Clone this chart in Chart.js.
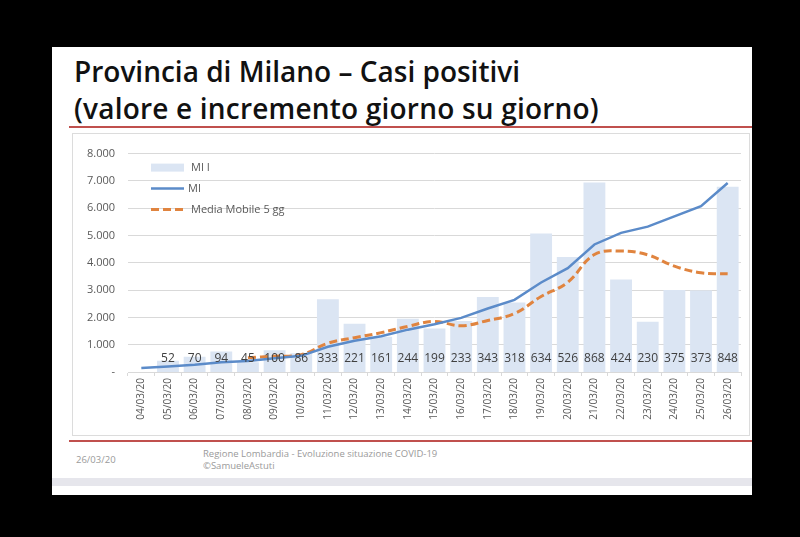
<!DOCTYPE html>
<html>
<head>
<meta charset="utf-8">
<script src="https://cdn.jsdelivr.net/npm/chart.js@4"></script>
<style>
  html, body { margin: 0; padding: 0; background: #000; }
  body { width: 800px; height: 537px; position: relative; overflow: hidden; font-family: "Open Sans", sans-serif; }
  #slide { position: absolute; left: 52px; top: 47px; width: 700px; height: 448px; background: #fff; }
  .title { position: absolute; left: 22px; color: #111; font-weight: 600; white-space: nowrap; }
  #t1 { top: 5px; font-size: 28px; letter-spacing: 0px; }
  #t2 { top: 42px; font-size: 28px; letter-spacing: 0.2px; }
  .redline { position: absolute; left: 17px; width: 683px; height: 2px; background: #c0504d; }
  #chart-box { position: absolute; left: 20px; top: 86px; width: 678px; height: 303px; border: 1px solid #dcdcdc; box-sizing: border-box; }
  .foot { position: absolute; color: #9a9a9a; font-size: 9.5px; white-space: nowrap; }
  #band { position: absolute; left: 0; top: 431px; width: 700px; height: 8px; background: #e6e6ec; }
</style>
</head>
<body>
<div id="slide">
  <div class="title" id="t1">Provincia di Milano – Casi positivi</div>
  <div class="title" id="t2">(valore e incremento giorno su giorno)</div>
  <div class="redline" style="top:79px"></div>
  <div id="chart-box"><canvas id="chart" width="676" height="301"></canvas></div>
  <div class="redline" style="top:393px"></div>
  <div class="foot" style="left:24px; top:406px;">26/03/20</div>
  <div class="foot" style="left:151px; top:400px;">Regione Lombardia - Evoluzione situazione COVID-19</div>
  <div class="foot" style="left:151px; top:412px;">©SamueleAstuti</div>
  <div id="band"></div>
</div>
<script>
"use strict";
(function () {
  // dates on the category axis
  const DATES = ["04/03/20", "05/03/20", "06/03/20", "07/03/20", "08/03/20", "09/03/20",
    "10/03/20", "11/03/20", "12/03/20", "13/03/20", "14/03/20", "15/03/20", "16/03/20",
    "17/03/20", "18/03/20", "19/03/20", "20/03/20", "21/03/20", "22/03/20", "23/03/20",
    "24/03/20", "25/03/20", "26/03/20"];
  // daily increment (bars, secondary axis)
  const MI_INC = [null, 52, 70, 94, 45, 100, 86, 333, 221, 161, 244, 199, 233, 343, 318,
    634, 526, 868, 424, 230, 375, 373, 848];
  // total positive cases (line)
  const MI_TOT = [145, 197, 267, 361, 406, 506, 592, 925, 1146, 1307, 1551, 1750, 1983,
    2326, 2644, 3278, 3804, 4672, 5096, 5326, 5701, 6074, 6922];
  // 5 day moving average of the increments (secondary axis)
  const MA5 = [null, null, null, null, 65.3, 72.2, 79, 131.6, 157, 180.2, 209, 231.6, 211.6,
    236, 267.4, 345.4, 410.8, 537.8, 554, 536.4, 484.6, 454, 450];

  const BAR_COLOR = "#dbe5f3";
  const LINE_COLOR = "#5b8bc9";
  const MA_COLOR = "#e0843f";
  const TEXT_COLOR = "#595959";

  function fmt(v) {
    if (v === 0) {
      return "-";
    }
    return String(v).replace(/\B(?=(\d{3})+(?!\d))/g, ".");
  }

  // numbers at the foot of each bar
  const barLabels = {
    id: "barLabels",
    afterDatasetsDraw(chart) {
      let ctx = chart.ctx;
      let meta = chart.getDatasetMeta(0);
      let y = chart.scales.y.getPixelForValue(0) - 13;
      ctx.save();
      ctx.font = "12px 'Open Sans'";
      ctx.fillStyle = "#404040";
      ctx.textAlign = "center";
      ctx.textBaseline = "middle";
      meta.data.forEach((bar, i) => {
        if (MI_INC[i] !== null) {
          ctx.fillText(String(MI_INC[i]), bar.x, y);
        }
      });
      ctx.restore();
    }
  };

  // legend inside the plot, top left
  const insideLegend = {
    id: "insideLegend",
    afterDraw(chart) {
      let ctx = chart.ctx;
      let x0 = chart.chartArea.left + 23;
      let y0 = chart.chartArea.top + 14;
      ctx.save();
      ctx.fillStyle = BAR_COLOR;
      ctx.fillRect(x0, y0 - 4, 33, 8);

      ctx.strokeStyle = LINE_COLOR;
      ctx.lineWidth = 2.5;
      ctx.beginPath();
      ctx.moveTo(x0, y0 + 21);
      ctx.lineTo(x0 + 33, y0 + 21);
      ctx.stroke();

      ctx.strokeStyle = MA_COLOR;
      ctx.lineWidth = 3;
      ctx.setLineDash([8, 4]);
      ctx.beginPath();
      ctx.moveTo(x0, y0 + 42);
      ctx.lineTo(x0 + 33, y0 + 42);
      ctx.stroke();
      ctx.setLineDash([]);

      ctx.font = "11px 'Open Sans'";
      ctx.fillStyle = TEXT_COLOR;
      ctx.textBaseline = "middle";
      ctx.fillText("MI I", x0 + 40, y0);
      ctx.fillText("MI", x0 + 37, y0 + 21);
      ctx.fillText("Media Mobile 5 gg", x0 + 40, y0 + 42);
      ctx.restore();
    }
  };

  new Chart(document.getElementById("chart"), {
    type: "bar",
    data: {
      labels: DATES,
      datasets: [
        {
          type: "bar",
          label: "MI I",
          data: MI_INC,
          yAxisID: "y1",
          backgroundColor: BAR_COLOR,
          barPercentage: 0.82,
          categoryPercentage: 1,
          order: 3
        },
        {
          type: "line",
          label: "MI",
          data: MI_TOT,
          yAxisID: "y",
          borderColor: LINE_COLOR,
          borderWidth: 2.5,
          pointRadius: 0,
          tension: 0,
          order: 1
        },
        {
          type: "line",
          label: "Media Mobile 5 gg",
          data: MA5,
          yAxisID: "y1",
          borderColor: MA_COLOR,
          borderWidth: 3,
          borderDash: [8, 4],
          pointRadius: 0,
          tension: 0.4,
          order: 2
        }
      ]
    },
    options: {
      responsive: false,
      animation: false,
      layout: { padding: { top: 15, right: 8, left: 0, bottom: 0 } },
      plugins: {
        legend: { display: false },
        tooltip: { enabled: false }
      },
      scales: {
        x: {
          grid: { drawOnChartArea: false, drawTicks: true, tickLength: 4, offset: true, color: "#d9d9d9" },
          border: { color: "#d9d9d9" },
          ticks: {
            color: TEXT_COLOR,
            font: { family: "'Open Sans'", size: 10 },
            minRotation: 90,
            maxRotation: 90,
            autoSkip: false,
            padding: 2
          },
          afterFit(scale) { scale.height = 63; }
        },
        y: {
          min: 0,
          max: 8000,
          ticks: {
            stepSize: 1000,
            color: TEXT_COLOR,
            font: { family: "'Open Sans'", size: 11 },
            padding: 13,
            callback: v => fmt(v)
          },
          grid: { color: "#d9d9d9", drawTicks: false },
          border: { display: false },
          afterFit(scale) { scale.width = 55; }
        },
        y1: {
          display: false,
          min: 0,
          max: 1000
        }
      }
    },
    plugins: [barLabels, insideLegend]
  });
})();
</script>
</body>
</html>
